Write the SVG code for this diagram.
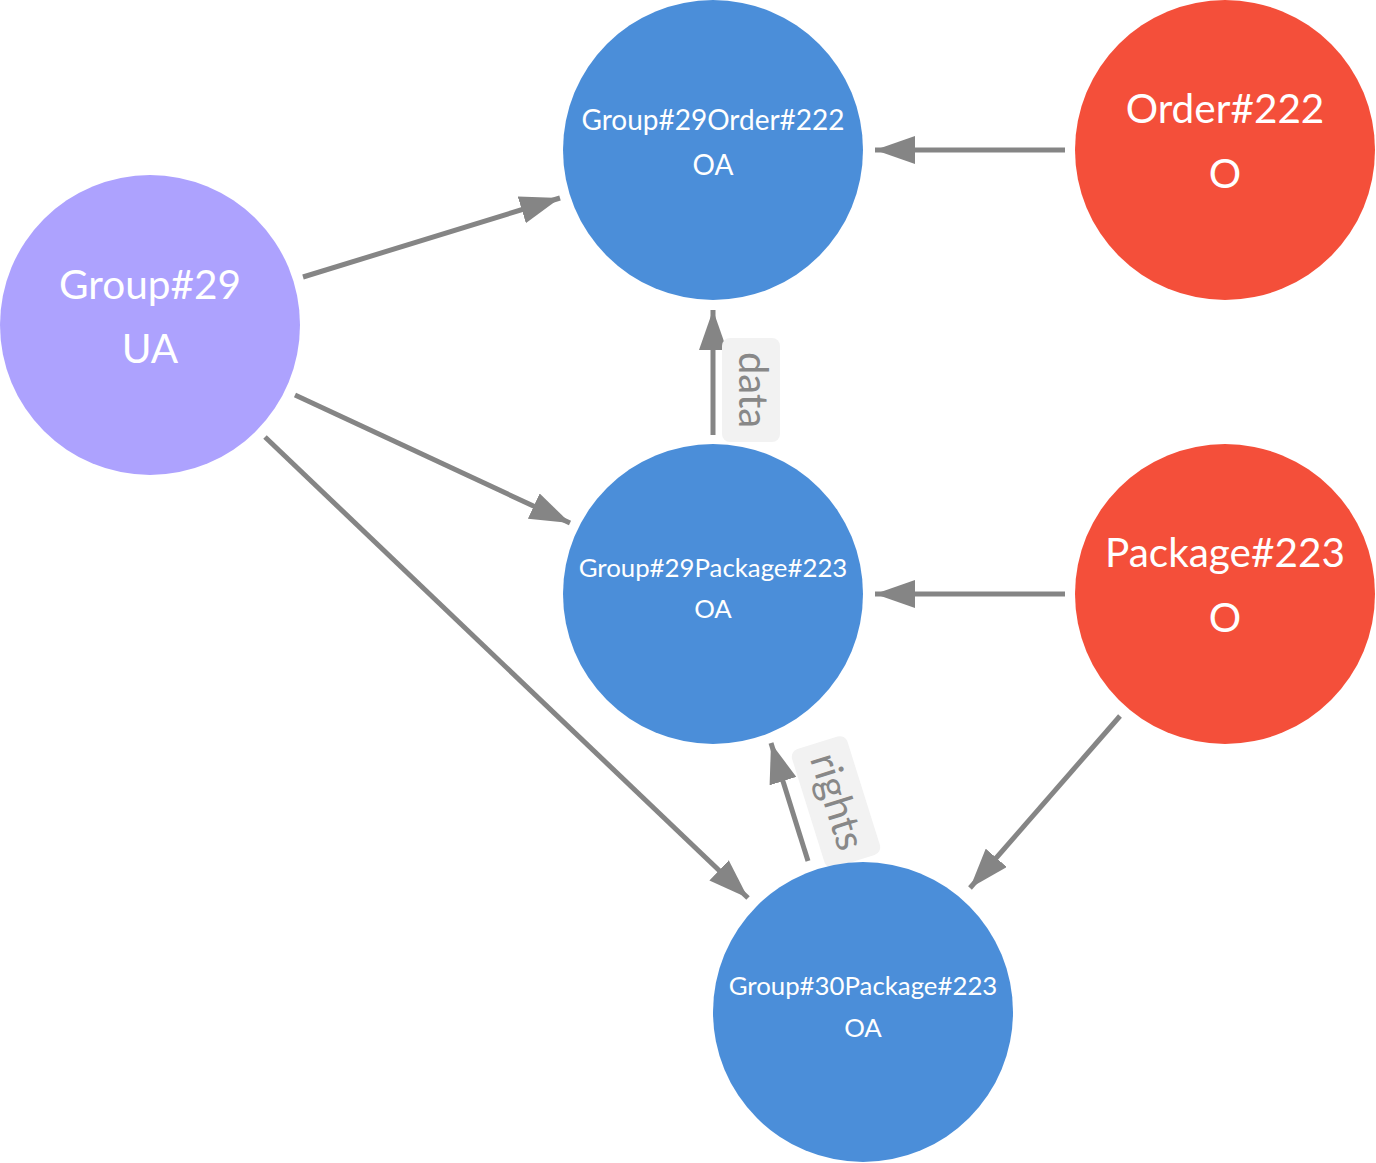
<svg xmlns="http://www.w3.org/2000/svg" width="1376" height="1163" viewBox="0 0 1376 1163">
<style>
.blue{fill:#4b8ed9}
.red{fill:#f44f3a}
.purple{fill:#ada2fe}
.t{fill:#ffffff;font-family:Lato,"Open Sans",sans-serif;text-anchor:middle}
.big{font-size:40.5px}
.mid{font-size:28px}
.sm{font-size:25.8px}
.e{stroke:#858585;stroke-width:5;fill:none}
.lbg{fill:#f2f2f2}
.lt{fill:#888888;font-family:Lato,"Open Sans",sans-serif;font-size:40px;text-anchor:middle}
</style>
<defs>
<marker id="ah" markerUnits="userSpaceOnUse" viewBox="0 0 40 28" refX="40" refY="14" markerWidth="40" markerHeight="28" orient="auto">
<path d="M0,0 L40,14 L0,28 Z" fill="#858585"/>
</marker>
</defs>
<g id="connectors">
<line class="e" x1="1065" y1="150" x2="875" y2="150" marker-end="url(#ah)"/>
<line class="e" x1="303" y1="277" x2="560" y2="198" marker-end="url(#ah)"/>
<line class="e" x1="295" y1="395" x2="570" y2="523" marker-end="url(#ah)"/>
<line class="e" x1="265" y1="437" x2="748" y2="898" marker-end="url(#ah)"/>
<line class="e" x1="713" y1="435" x2="713" y2="310" marker-end="url(#ah)"/>
<line class="e" x1="1065" y1="594" x2="875" y2="594" marker-end="url(#ah)"/>
<line class="e" x1="1120" y1="716" x2="970" y2="888" marker-end="url(#ah)"/>
<line class="e" x1="808" y1="861" x2="771" y2="743" marker-end="url(#ah)"/>
<g id="label-data" transform="translate(751,390) rotate(90)">
<rect class="lbg" x="-52" y="-29" width="104" height="58" rx="8"/>
<text class="lt" x="0" y="12">data</text>
</g>
<g id="label-rights" transform="translate(836,802) rotate(72.6)">
<rect class="lbg" x="-62" y="-29" width="124" height="58" rx="8"/>
<text class="lt" x="0" y="12">rights</text>
</g>
</g>
<g id="node-g29o222">
<circle class="blue" cx="713" cy="150" r="150"/>
<text class="t mid" x="713" y="130">Group#29Order#222</text>
<text class="t mid" x="713" y="175">OA</text>
</g>
<g id="node-o222">
<circle class="red" cx="1225" cy="150" r="150"/>
<text class="t big" x="1225" y="123">Order#222</text>
<text class="t big" x="1225" y="188">O</text>
</g>
<g id="node-g29">
<circle class="purple" cx="150" cy="325" r="150"/>
<text class="t big" x="150" y="299">Group#29</text>
<text class="t big" x="150" y="363">UA</text>
</g>
<g id="node-g29p223">
<circle class="blue" cx="713" cy="594" r="150"/>
<text class="t sm" x="713" y="577">Group#29Package#223</text>
<text class="t sm" x="713" y="618">OA</text>
</g>
<g id="node-p223">
<circle class="red" cx="1225" cy="594" r="150"/>
<text class="t big" x="1225" y="567">Package#223</text>
<text class="t big" x="1225" y="632">O</text>
</g>
<g id="node-g30p223">
<circle class="blue" cx="863" cy="1012" r="150"/>
<text class="t sm" x="863" y="995">Group#30Package#223</text>
<text class="t sm" x="863" y="1037">OA</text>
</g>
</svg>
